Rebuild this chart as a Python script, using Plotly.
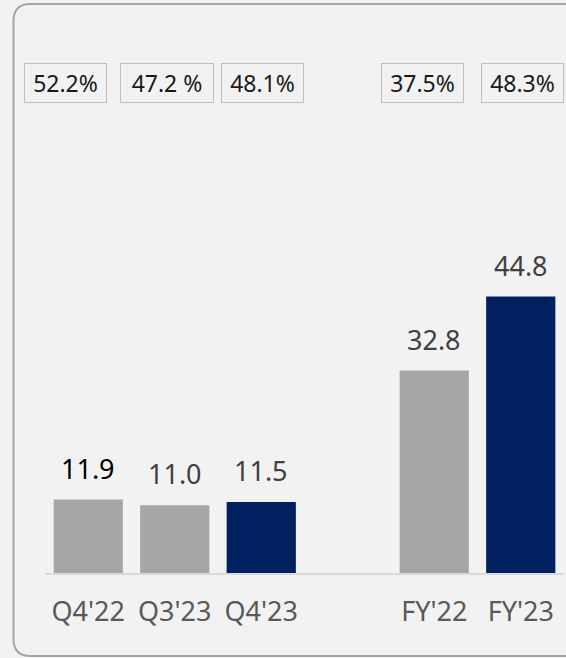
import plotly.graph_objects as go

categories = ["Q4'22", "Q3'23", "Q4'23", " ", "FY'22", "FY'23"]
values = [11.9, 11.0, 11.5, None, 32.8, 44.8]
value_labels = ["11.9", "11.0", "11.5", "", "32.8", "44.8"]
margin_labels = ["52.2%", "47.2 %", "48.1%", "", "37.5%", "48.3%"]

bar_colors = ["#a6a6a6", "#a6a6a6", "#002060", "#a6a6a6", "#a6a6a6", "#002060"]
label_colors = ["#000000", "#404040", "#404040", "#404040", "#404040", "#404040"]

W, H = 566, 658
L, R, T, B = 45, 2, 0, 85
pw, ph = W - L - R, H - T - B
FONT = "Noto Sans"

fig = go.Figure()
fig.add_trace(go.Bar(
    x=categories, y=values, marker=dict(color=bar_colors, line=dict(width=0)),
    hoverinfo="skip", showlegend=False,
))

annotations = []
for i, (c, v, t) in enumerate(zip(categories, values, value_labels)):
    if v is None:
        continue
    annotations.append(dict(
        x=c, y=v, xref="x", yref="y", text=t, showarrow=False,
        yanchor="bottom", yshift=11,
        font=dict(family=FONT, size=27, color=label_colors[i]),
    ))

# margin boxes (pixel centers from layout)
box_centers = [65.5, 167, 262.5, None, 422.5, 522.5]
box_widths = [83, 94, 83, None, 83, 83]
for cx, bw, t in zip(box_centers, box_widths, margin_labels):
    if cx is None:
        continue
    annotations.append(dict(
        x=(cx - L) / pw, y=(573 - 83) / ph, xref="paper", yref="paper",
        text=t, showarrow=False, xanchor="center", yanchor="middle",
        width=bw - 2, height=38, borderpad=0, borderwidth=1,
        bordercolor="#bfbfbf", bgcolor="#f2f2f2",
        font=dict(family=FONT, size=23, color="#1a1a1a"),
    ))

# rounded border (right side runs past the frame)
x0, x1 = (13.5 - L) / pw, (590 - L) / pw
y0, y1 = (573 - 656) / ph, (573 - 4) / ph
rx, ry = 17 / pw, 17 / ph
path = (f"M {x0+rx},{y1} L {x1-rx},{y1} Q {x1},{y1} {x1},{y1-ry} "
        f"L {x1},{y0+ry} Q {x1},{y0} {x1-rx},{y0} L {x0+rx},{y0} "
        f"Q {x0},{y0} {x0},{y0+ry} L {x0},{y1-ry} Q {x0},{y1} {x0+rx},{y1} Z")

fig.update_layout(
    width=W, height=H,
    margin=dict(l=L, r=R, t=T, b=B),
    paper_bgcolor="#f2f2f2", plot_bgcolor="#f2f2f2",
    bargap=0.2,
    annotations=annotations,
    shapes=[dict(type="path", path=path, xref="paper", yref="paper",
                 line=dict(color="#a6a6a6", width=2), layer="below")],
    xaxis=dict(
        type="category", categoryorder="array", categoryarray=categories,
        showgrid=False, zeroline=False, showline=True, linecolor="#d9d9d9",
        linewidth=1.5, ticks="", ticklabelstandoff=14,
        tickfont=dict(family=FONT, size=27, color="#595959"),
        fixedrange=True,
    ),
    yaxis=dict(range=[0, ph / 6.17], visible=False, fixedrange=True),
)

fig.write_html(
    "out.html",
    config={"displayModeBar": False},
    post_script="document.body.style.margin='0';document.body.style.background='#f2f2f2';document.body.style.overflow='hidden';",
)
